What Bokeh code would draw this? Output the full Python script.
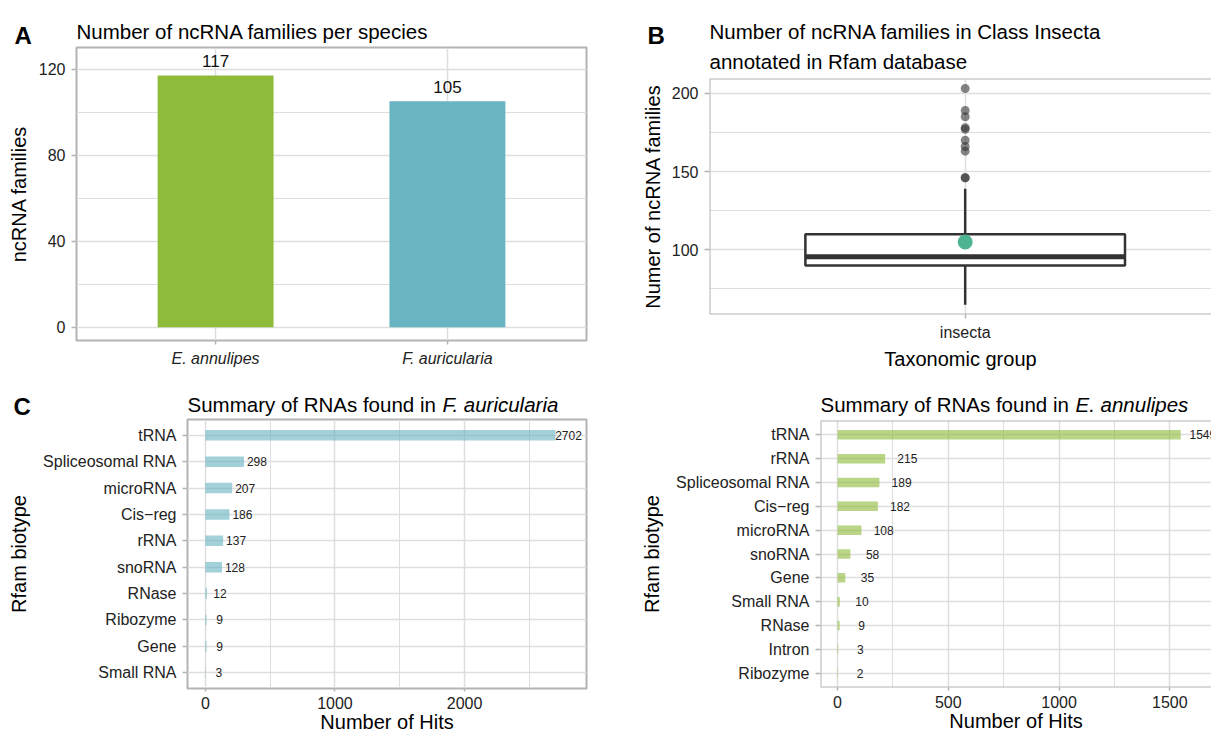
from bokeh.plotting import figure
from bokeh.layouts import row, column
from bokeh.models import (ColumnDataSource, FactorRange, Range1d, FixedTicker,
                          Span)
from bokeh.core.properties import value
from bokeh.embed import file_html
from bokeh.resources import INLINE

# ---------------- data ----------------
# Panel A
species = ["E. annulipes", "F. auricularia"]
ncrna_families = [117, 105]
species_colors = ["#8FBB3B", "#69B4C1"]

# Panel B (box plot summary)
insecta_group = ["insecta"]
insecta_q1 = 90
insecta_median = 95.5
insecta_q3 = 110
insecta_whisker_low = 65
insecta_whisker_high = 139
insecta_mean = 105
insecta_outliers = [203, 189, 185, 178, 177, 170, 166, 163, 146, 146]

# Panel C: F. auricularia
fa_biotypes = ["tRNA", "Spliceosomal RNA", "microRNA", "Cis\u2212reg", "rRNA",
               "snoRNA", "RNase", "Ribozyme", "Gene", "Small RNA"]
fa_hits = [2702, 298, 207, 186, 137, 128, 12, 9, 9, 3]

# Panel D: E. annulipes
ea_biotypes = ["tRNA", "rRNA", "Spliceosomal RNA", "Cis\u2212reg", "microRNA",
               "snoRNA", "Gene", "Small RNA", "RNase", "Intron", "Ribozyme"]
ea_hits = [1549, 215, 189, 182, 108, 58, 35, 10, 9, 3, 2]

# titles
title_A = "Number of ncRNA families per species"
title_B = ["Number of ncRNA families in Class Insecta", "annotated in Rfam database"]
title_C = ("Summary of RNAs found in ", "F. auricularia")
title_D = ("Summary of RNAs found in ", "E. annulipes")

LABEL_NUDGE = 100  # ggplot-style nudge of the count labels (data units)

FONT = "Liberation Sans"
BORDER = "#b3b3b3"
GRID = "#dedede"
TITLE_SIZE = "20.5px"


def make_fig(**kw):
    return figure(toolbar_location=None, output_backend="svg",
                  frame_align=False, **kw)


def header(width, height):
    """A blank strip (pixel coordinates, y downwards) holding titles."""
    h = make_fig(width=width, height=height,
                 x_range=Range1d(0, width), y_range=Range1d(height, 0),
                 x_axis_type=None, y_axis_type=None,
                 min_border_left=0, min_border_right=0,
                 min_border_top=0, min_border_bottom=0)
    h.outline_line_color = None
    h.background_fill_color = "white"
    h.border_fill_color = "white"
    h.grid.visible = False
    return h


def put(h, text, x, y, size=TITLE_SIZE, style_="normal", align="left"):
    h.text(x=[x], y=[y], text=[text], text_font=value(FONT),
           text_font_size=size, text_font_style=style_, text_align=align,
           text_baseline="alphabetic", text_color="black")


def style(p, tick_out=5, label_standoff=6):
    p.background_fill_color = "white"
    p.border_fill_color = "white"
    p.outline_line_color = BORDER
    p.outline_line_width = 2
    for ax in p.axis:
        ax.axis_line_color = None
        ax.major_tick_line_color = BORDER
        ax.major_tick_line_width = 1.5
        ax.major_tick_in = 0
        ax.major_tick_out = tick_out
        ax.minor_tick_line_color = None
        ax.major_label_standoff = label_standoff
        ax.major_label_text_font = FONT
        ax.major_label_text_font_size = "16px"
        ax.major_label_text_color = "#222222"
        ax.axis_label_text_font = FONT
        ax.axis_label_text_font_size = "20px"
        ax.axis_label_text_font_style = "normal"
        ax.axis_label_text_color = "black"
    for g in p.grid:
        g.grid_line_color = GRID
        g.grid_line_width = 1.5


def open_right(p, x_start, y_start, y_end):
    p.outline_line_color = None
    p.add_layout(Span(location=x_start, dimension="height",
                      line_color=BORDER, line_width=2))
    p.add_layout(Span(location=y_start, dimension="width",
                      line_color=BORDER, line_width=2))
    p.add_layout(Span(location=y_end, dimension="width",
                      line_color=BORDER, line_width=2))


# ---------------- Panel A ----------------
hA = header(600, 46)
put(hA, "A", 14, 34.5, size="24px", style_="bold")
put(hA, title_A, 76, 30.7)

srcA = ColumnDataSource(dict(species=species, n=ncrna_families,
                             color=species_colors,
                             label=[str(v) for v in ncrna_families]))
pA = make_fig(x_range=FactorRange(factors=species, range_padding=0.1,
                                  range_padding_units="absolute"),
              y_range=Range1d(-6.2, 130),
              width=600, height=329,
              min_border_left=76, min_border_right=14,
              min_border_top=1, min_border_bottom=35)
pA.vbar(x="species", top="n", width=0.5, source=srcA,
        fill_color="color", line_color=None)
pA.text(x="species", y="n", text="label", source=srcA, y_offset=-8,
        text_align="center", text_baseline="bottom",
        text_font=value(FONT), text_font_size="17px", text_color="#111111")
style(pA)
pA.yaxis.ticker = FixedTicker(ticks=[0, 40, 80, 120], minor_ticks=[20, 60, 100])
pA.ygrid.ticker = pA.yaxis.ticker
pA.ygrid.minor_grid_line_color = GRID
pA.ygrid.minor_grid_line_width = 1
pA.yaxis.axis_label = "ncRNA families"
pA.yaxis.axis_label_standoff = 6
pA.xaxis.major_label_text_font_style = "italic"
pA.xaxis.major_tick_out = 4
pA.xaxis.major_label_standoff = 5

# ---------------- Panel B ----------------
hB = header(611, 76)
put(hB, "B", 47, 34.5, size="24px", style_="bold")
put(hB, title_B[0], 109, 30.7)
put(hB, title_B[1], 109, 60.7)

bx = [i + 1 for i in range(len(insecta_group))]
pB = make_fig(x_range=Range1d(0.4, 1.578), y_range=Range1d(58.7, 209.4),
              width=611, height=299,
              min_border_left=109, min_border_right=0,
              min_border_top=2, min_border_bottom=61)
style(pB)
pB.yaxis.ticker = FixedTicker(ticks=[100, 150, 200], minor_ticks=[75, 125, 175])
pB.ygrid.ticker = pB.yaxis.ticker
pB.ygrid.minor_grid_line_color = GRID
pB.ygrid.minor_grid_line_width = 1
pB.xaxis.ticker = FixedTicker(ticks=bx)
pB.xgrid.ticker = pB.xaxis.ticker
pB.xaxis.major_label_overrides = {x: g for x, g in zip(bx, insecta_group)}
pB.xaxis.major_label_standoff = 5
pB.xaxis.major_tick_out = 4
pB.yaxis.axis_label = "Numer of ncRNA families"
pB.yaxis.axis_label_standoff = 5
pB.xaxis.axis_label = "Taxonomic group"
pB.xaxis.axis_label_standoff = 4

box_src = ColumnDataSource(dict(x=bx, q1=[insecta_q1], q2=[insecta_median],
                                q3=[insecta_q3], lo=[insecta_whisker_low],
                                hi=[insecta_whisker_high], mean=[insecta_mean]))
pB.segment(x0="x", y0="q3", x1="x", y1="hi", source=box_src,
           line_color="#333333", line_width=2.5)
pB.segment(x0="x", y0="q1", x1="x", y1="lo", source=box_src,
           line_color="#333333", line_width=2.5)
pB.vbar(x="x", bottom="q1", top="q3", width=0.75, source=box_src,
        fill_color="white", line_color="#333333", line_width=2.5)
pB.hbar(y="q2", left=0.625, right=1.375, height=0.0, source=box_src,
        line_color="#333333", line_width=5)
pB.scatter(x=[bx[0]] * len(insecta_outliers), y=insecta_outliers, size=9,
           fill_color="#333333", fill_alpha=0.6, line_color=None)
pB.scatter(x="x", y="mean", source=box_src, size=15,
           fill_color="#4DB391", line_color=None)
open_right(pB, 0.4, 58.7, 209.4)


# ---------------- Panels C & D ----------------
def hits_panel(biotypes, hits, color, x_limits, ticks, minor, width, height,
               border_left, border_right, border_top, border_bottom):
    src = ColumnDataSource(dict(b=biotypes, h=hits,
                                lx=[h + LABEL_NUDGE for h in hits],
                                lab=[str(h) for h in hits]))
    p = make_fig(y_range=FactorRange(factors=list(reversed(biotypes)),
                                     range_padding=0.1,
                                     range_padding_units="absolute"),
                 x_range=Range1d(*x_limits),
                 width=width, height=height,
                 min_border_left=border_left, min_border_right=border_right,
                 min_border_top=border_top, min_border_bottom=border_bottom)
    p.hbar(y="b", left=0, right="h", height=0.4, source=src,
           fill_color=color, fill_alpha=0.62, line_color=None)
    p.text(x="lx", y="b", text="lab", source=src, text_align="center",
           text_baseline="middle", text_font=value(FONT),
           text_font_size="12px", text_color="#222222")
    style(p)
    p.xaxis.ticker = FixedTicker(ticks=ticks, minor_ticks=minor)
    p.xgrid.ticker = p.xaxis.ticker
    p.xgrid.minor_grid_line_color = GRID
    p.xgrid.minor_grid_line_width = 1
    p.xaxis.major_tick_out = 3
    p.xaxis.major_label_standoff = 4
    p.xaxis.axis_label = "Number of Hits"
    p.xaxis.axis_label_standoff = -1
    p.yaxis.axis_label = "Rfam biotype"
    p.yaxis.axis_label_standoff = 10
    return p


hC = header(600, 43)
put(hC, "C", 13, 31, size="24px", style_="bold")
put(hC, title_C[0], 187, 29.3)
put(hC, title_C[1], 187 + 255, 29.3, style_="italic")
pC = hits_panel(fa_biotypes, fa_hits, "#69B4C1", (-138, 2941),
                [0, 1000, 2000], [500, 1500, 2500], 600, 317, 187, 14, 1, 47)

hD = header(611, 43)
put(hD, title_D[0], 220, 29.3)
put(hD, title_D[1], 220 + 255, 29.3, style_="italic")
pD = hits_panel(ea_biotypes, ea_hits, "#8FBB3B", (-77, 1688),
                [0, 500, 1000, 1500], [250, 750, 1250], 611, 317, 220, 0, 2, 48)
nD = len(ea_biotypes)
open_right(pD, -77, -0.1, nD + 0.1)

layout = column(row(column(hA, pA), column(hB, pB)),
                row(column(hC, pC), column(hD, pD)))

open("out.html", "w").write(file_html(layout, INLINE))
